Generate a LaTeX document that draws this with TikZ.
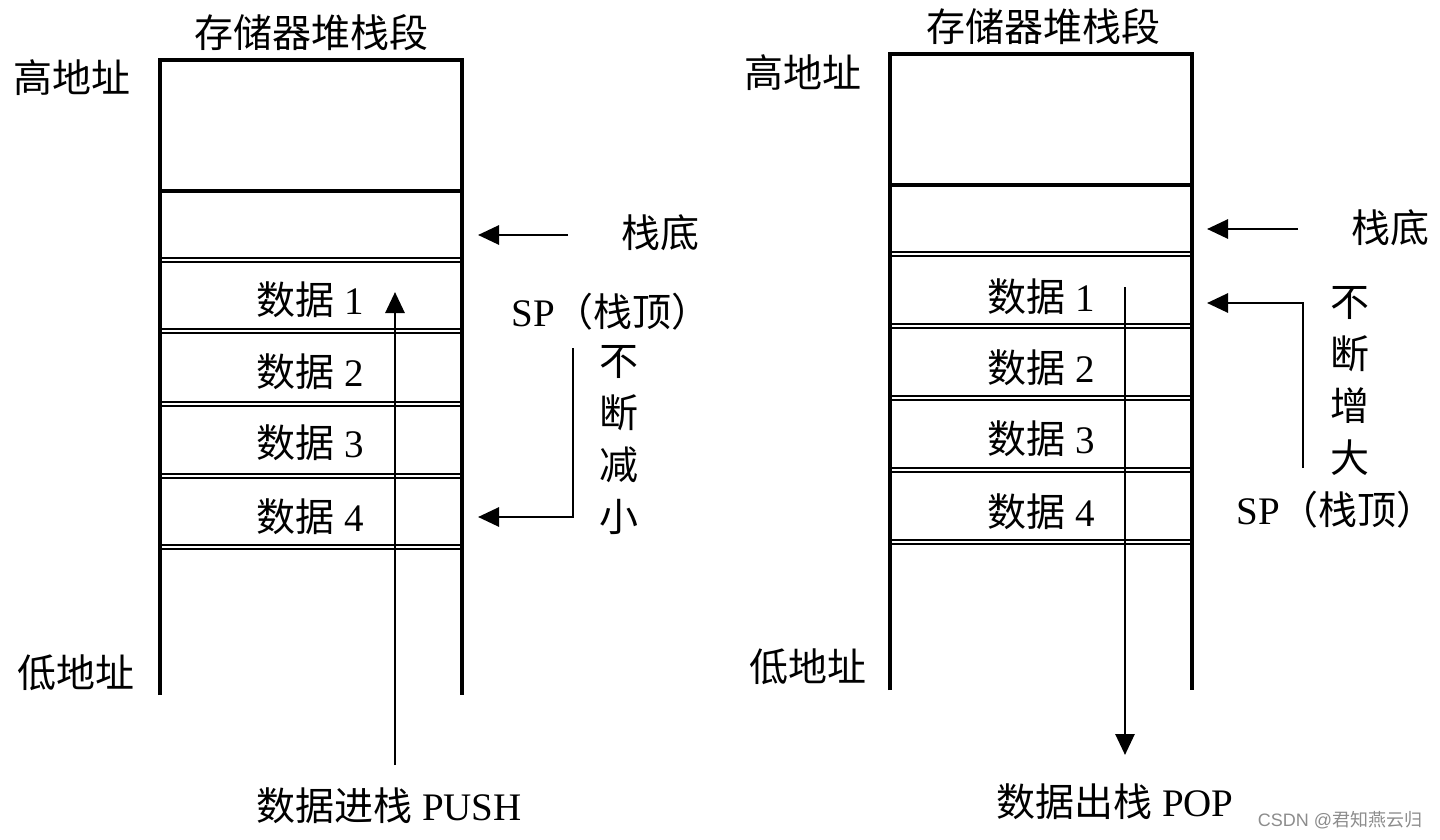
\documentclass[tikz,border=0pt]{standalone}
\usepackage{fontspec}
\setmainfont{Liberation Serif}
\newfontfamily\cjk{Noto Sans CJK SC}
\newfontfamily\wmfont{Liberation Sans}
\usetikzlibrary{arrows.meta}
\newcommand{\zh}[1]{{\cjk #1}}
\tikzset{wall/.style={line width=4pt},
  slot/.style={double, double distance=1.9pt, line width=2pt},
  flow/.style={line width=2.8pt, -{Triangle[length=21pt,width=19pt]}},
  txt/.style={inner sep=0pt, align=center, font=\fontsize{39}{52}\selectfont},}

\begin{document}
\begin{tikzpicture}[x=1pt, y=-1pt]
\useasboundingbox (0,0) rectangle (1440,840);
% left stack (push)
\node [txt] (titleL) at (311,33) {\zh{存储器堆栈段}};
\node [txt] (highL) at (72,78) {\zh{高地址}};
\node [txt] (lowL) at (76,673) {\zh{低地址}};
\draw [slot] (160,260) -- (462,260);
\draw [slot] (160,331) -- (462,331);
\draw [slot] (160,404) -- (462,404);
\draw [slot] (160,476) -- (462,476);
\draw [slot] (160,547) -- (462,547);
\draw [wall] (160,191) -- (462,191);
\draw [wall] (160,695) -- (160,60) -- (462,60) -- (462,695);
\node [txt] (d1L) at (310,300) {\zh{数据} 1};
\node [txt] (d2L) at (310,372) {\zh{数据} 2};
\node [txt] (d3L) at (310,443) {\zh{数据} 3};
\node [txt] (d4L) at (310,517) {\zh{数据} 4};
\coordinate (pushStart) at (395,765);
\coordinate (pushEnd) at (395,292);
\draw [flow] (pushStart) -- (pushEnd);
\node [txt] (pushTxt) at (389,806) {\zh{数据进栈} PUSH};
\coordinate (baseL) at (568,235);
\coordinate (baseTipL) at (478,235);
\draw [flow] (baseL) -- (baseTipL);
\node [txt] (baseTxtL) at (660,233) {\zh{栈底}};
\node [txt] (spL) at (611,312) {SP\zh{（栈顶）}};
\coordinate (shrinkTop) at (573,348);
\coordinate (spTipL) at (478,517);
\draw [flow] (shrinkTop) |- (spTipL);
\node [txt] (shrinkTxt) at (619,440) {\zh{不}\\\zh{断}\\\zh{减}\\\zh{小}};
% right stack (pop)
\node [txt] (titleR) at (1043,27) {\zh{存储器堆栈段}};
\node [txt] (highR) at (803,73) {\zh{高地址}};
\node [txt] (lowR) at (808,667) {\zh{低地址}};
\draw [slot] (890,254) -- (1192,254);
\draw [slot] (890,326) -- (1192,326);
\draw [slot] (890,398) -- (1192,398);
\draw [slot] (890,470) -- (1192,470);
\draw [slot] (890,542) -- (1192,542);
\draw [wall] (890,185) -- (1192,185);
\draw [wall] (890,690) -- (890,54) -- (1192,54) -- (1192,690);
\node [txt] (d1R) at (1041,297) {\zh{数据} 1};
\node [txt] (d2R) at (1041,368) {\zh{数据} 2};
\node [txt] (d3R) at (1041,439) {\zh{数据} 3};
\node [txt] (d4R) at (1041,512) {\zh{数据} 4};
\coordinate (popStart) at (1125,287);
\coordinate (popEnd) at (1125,755);
\draw [flow] (popStart) -- (popEnd);
\node [txt] (popTxt) at (1115,802) {\zh{数据出栈} POP};
\coordinate (baseR) at (1298,229);
\coordinate (baseTipR) at (1207,229);
\draw [flow] (baseR) -- (baseTipR);
\node [txt] (baseTxtR) at (1390,228) {\zh{栈底}};
\coordinate (growBottom) at (1303,468);
\coordinate (spTipR) at (1207,303);
\draw [flow] (growBottom) |- (spTipR);
\node [txt] (growTxt) at (1350,381) {\zh{不}\\\zh{断}\\\zh{增}\\\zh{大}};
\node [txt] (spR) at (1336,510) {SP\zh{（栈顶）}};
\node [inner sep=0pt, text=black!45, font=\wmfont\fontsize{18}{20}\selectfont] (mark) at (1340,820) {CSDN @\zh{君知燕云归}};
\end{tikzpicture}
\end{document}
